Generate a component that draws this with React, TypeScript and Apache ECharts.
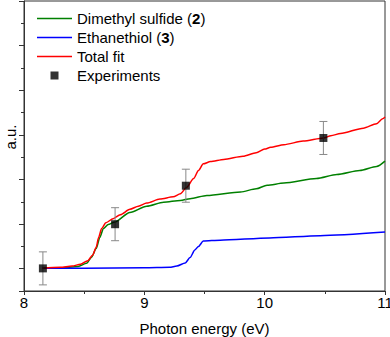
import React, { useEffect, useRef } from "react";
import * as echarts from "echarts";

const dmsX = [8.15, 8.3, 8.45, 8.52, 8.56, 8.6, 8.63, 8.66, 8.7, 8.75, 8.88, 9.02, 9.16, 9.3, 9.38, 9.52, 9.8, 9.93, 10.02, 10.16, 10.43, 10.6, 10.79, 10.93, 11.0];
const dmsY = [0.51, 0.52, 0.55, 0.62, 0.75, 0.95, 1.2, 1.4, 1.49, 1.54, 1.76, 1.9, 1.99, 2.03, 2.07, 2.14, 2.22, 2.29, 2.37, 2.42, 2.52, 2.61, 2.7, 2.79, 2.91];

const ethX = [8.15, 8.5, 9.0, 9.21, 9.27, 9.34, 9.38, 9.42, 9.45, 9.49, 9.63, 10.04, 10.46, 11.0];
const ethY = [0.51, 0.51, 0.52, 0.53, 0.56, 0.63, 0.75, 0.92, 1.0, 1.12, 1.14, 1.19, 1.24, 1.32];

const fitX = [8.15, 8.3, 8.4, 8.47, 8.53, 8.57, 8.6, 8.62, 8.645, 8.68, 8.74, 8.8, 8.88, 8.95, 9.02, 9.13, 9.24, 9.3, 9.35, 9.41, 9.45, 9.49, 9.55, 9.66, 9.82, 9.93, 10.0, 10.05, 10.16, 10.32, 10.49, 10.55, 10.63, 10.82, 10.93, 10.98, 11.0];
const fitY = [0.51, 0.53, 0.56, 0.6, 0.68, 0.8, 0.98, 1.2, 1.4, 1.53, 1.62, 1.71, 1.83, 1.9, 1.97, 2.06, 2.11, 2.18, 2.32, 2.52, 2.7, 2.85, 2.9, 2.95, 3.02, 3.1, 3.18, 3.22, 3.28, 3.36, 3.43, 3.48, 3.53, 3.65, 3.75, 3.86, 3.9];

const expX = [8.157, 8.757, 9.345, 10.488];
const expY = [0.507, 1.497, 2.36, 3.43];
const expErr = [0.37, 0.37, 0.37, 0.37];

const xTicks = ["8", "9", "10", "11"];

const FONT = "Liberation Sans, Arial, sans-serif";
const FS = 15;

const names = {
  dms: "Dimethyl sulfide (2)",
  eth: "Ethanethiol (3)",
  fit: "Total fit",
  exp: "Experiments",
};

const legendFmt: Record<string, string> = {
  [names.dms]: "{n|Dimethyl sulfide (}{b|2}{n|)}",
  [names.eth]: "{n|Ethanethiol (}{b|3}{n|)}",
  [names.fit]: "{n|Total fit}",
  [names.exp]: "{n|Experiments}",
};

const LINE_ICON = "path://M0,0h35v1.4h-35z";
const SQUARE_ICON = "path://M0,0h0.01v0.01h-0.01z M3,3h8v8h-8z M13.99,13.99h0.01v0.01h-0.01z";

const zip = (xs: number[], ys: number[]) => xs.map((x, i) => [x, ys[i]]);

export default function App() {
  const ref = useRef<HTMLDivElement>(null);
  useEffect(() => {
    document.body.style.margin = "0";
    if (!ref.current) return;
    const chart = echarts.init(ref.current, undefined, { renderer: "svg" });
    const lineBase = {
      type: "line",
      symbol: "none",
      smooth: 0.25,
      smoothMonotone: "x",
      xAxisIndex: 0,
      yAxisIndex: 0,
      z: 2,
    };
    chart.setOption({
      animation: false,
      backgroundColor: "#fff",
      textStyle: { fontFamily: FONT },
      grid: {
        left: 24,
        right: 5,
        top: 1,
        bottom: 46,
        containLabel: false,
        outerBoundsMode: "none",
        show: true,
        borderColor: "#333",
        borderWidth: 1,
        backgroundColor: "transparent",
      },
      graphic: [
        {
          type: "text",
          x: 10,
          y: 137,
          rotation: Math.PI / 2,
          style: {
            text: "a.u.",
            fontFamily: FONT,
            fontSize: FS,
            fill: "#000",
            align: "center",
            verticalAlign: "middle",
          },
        },
      ],
      legend: {
        orient: "vertical",
        left: 32,
        top: 6,
        itemWidth: 35,
        itemHeight: 14,
        itemGap: 4,
        selectedMode: false,
        symbolKeepAspect: true,
        data: [
          { name: names.dms, icon: LINE_ICON },
          { name: names.eth, icon: LINE_ICON },
          { name: names.fit, icon: LINE_ICON },
          { name: names.exp, icon: SQUARE_ICON },
        ],
        formatter: (n: string) => legendFmt[n] || n,
        textStyle: {
          fontFamily: FONT,
          fontSize: FS,
          color: "#000",
          rich: {
            n: { fontFamily: FONT, fontSize: FS, color: "#000", lineHeight: 14 },
            b: { fontFamily: FONT, fontSize: FS, color: "#000", fontWeight: "bold", lineHeight: 14 },
          },
        },
      },
      xAxis: {
        type: "value",
        min: 8,
        max: 11,
        interval: 1,
        name: "Photon energy (eV)",
        nameLocation: "middle",
        nameGap: 30,
        nameTextStyle: { fontFamily: FONT, fontSize: FS, color: "#000" },
        axisLine: { show: true, lineStyle: { color: "#333", width: 1 } },
        axisTick: { show: true, length: 4, lineStyle: { color: "#333" } },
        minorTick: { show: true, splitNumber: 2, length: 3, lineStyle: { color: "#333" } },
        splitLine: { show: false },
        axisLabel: {
          fontFamily: FONT,
          fontSize: FS,
          color: "#000",
          margin: 4,
          formatter: (v: number) => {
            const s = String(Math.round(v));
            return xTicks.includes(s) ? s : "";
          },
        },
      },
      yAxis: [
        {
          type: "value",
          min: 0,
          max: 6.5,
          interval: 0.5,
          axisLine: { show: true, lineStyle: { color: "#333", width: 1 } },
          axisTick: { show: true, length: 3, lineStyle: { color: "#333" } },
          axisLabel: { show: false },
          splitLine: { show: false },
        },
        {
          type: "value",
          min: 0,
          max: 6.5,
          interval: 1,
          inverse: true,
          position: "left",
          axisLine: { show: false },
          axisTick: { show: true, length: 5, lineStyle: { color: "#333" } },
          axisLabel: { show: false },
          splitLine: { show: false },
        },
      ],
      series: [
        {
          ...lineBase,
          name: names.dms,
          data: zip(dmsX, dmsY),
          color: "#008000",
          lineStyle: { color: "#008000", width: 1.5 },
        },
        {
          ...lineBase,
          name: names.eth,
          data: zip(ethX, ethY),
          color: "#0000ff",
          lineStyle: { color: "#0000ff", width: 1.5 },
        },
        {
          ...lineBase,
          name: names.fit,
          data: zip(fitX, fitY),
          color: "#ff0000",
          lineStyle: { color: "#ff0000", width: 1.5 },
          z: 3,
        },
        {
          type: "custom",
          name: "errors",
          xAxisIndex: 0,
          yAxisIndex: 0,
          z: 4,
          data: expX.map((x, i) => [x, expY[i], expErr[i]]),
          encode: { x: 0, y: 1 },
          renderItem: (params: any, api: any) => {
            const x = api.value(0);
            const y = api.value(1);
            const e = api.value(2);
            const top = api.coord([x, y + e]);
            const bot = api.coord([x, y - e]);
            const hw = 4;
            const style = { stroke: "#888", lineWidth: 1 };
            return {
              type: "group",
              children: [
                { type: "line", shape: { x1: top[0], y1: top[1], x2: bot[0], y2: bot[1] }, style },
                { type: "line", shape: { x1: top[0] - hw, y1: top[1], x2: top[0] + hw, y2: top[1] }, style },
                { type: "line", shape: { x1: bot[0] - hw, y1: bot[1], x2: bot[0] + hw, y2: bot[1] }, style },
              ],
            };
          },
        },
        {
          type: "scatter",
          name: names.exp,
          xAxisIndex: 0,
          yAxisIndex: 0,
          symbol: "rect",
          symbolSize: 8,
          color: "#000",
          itemStyle: { color: "#000" },
          z: 5,
          data: zip(expX, expY),
        },
      ],
    });
    return () => chart.dispose();
  }, []);
  return <div ref={ref} style={{ width: 390, height: 337 }} />;
}
